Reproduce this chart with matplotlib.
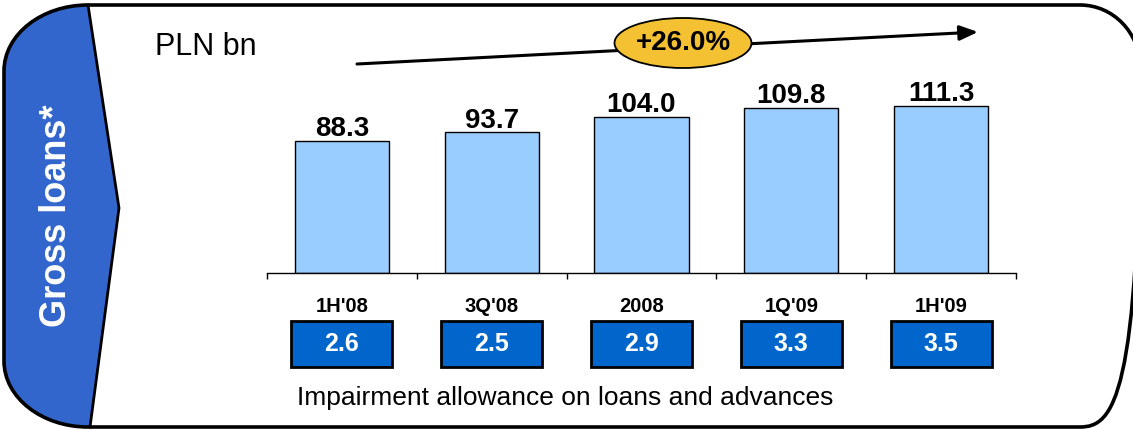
import matplotlib.pyplot as plt
import matplotlib.transforms as mtransforms
from matplotlib.patches import PathPatch, Ellipse, Rectangle
from matplotlib.path import Path
import numpy as np

plt.rcParams['font.family'] = ['Liberation Sans', 'DejaVu Sans']

periods = ["1H'08", "3Q'08", "2008", "1Q'09", "1H'09"]
gross_loans = [88.3, 93.7, 104.0, 109.8, 111.3]
impairment = [2.6, 2.5, 2.9, 3.3, 3.5]

growth = (gross_loans[-1] / gross_loans[0] - 1) * 100

fig = plt.figure(figsize=(11.33, 4.3), dpi=100)

# background layer in pixel units (y pointing down)
bg = fig.add_axes([0, 0, 1, 1])
bg.set_xlim(0, 1133)
bg.set_ylim(430, 0)
bg.axis('off')

K = 0.5523


def rounded_frame(left, top, right, bottom, rxl, ryl, rxr, ryr):
    verts = [
        (left + rxl, top),
        (right - rxr, top),
        (right - rxr + K * rxr, top), (right, top + ryr - K * ryr), (right, top + ryr),
        (right, bottom - ryr),
        (right, bottom - ryr + K * ryr), (right - rxr + K * rxr, bottom), (right - rxr, bottom),
        (left + rxl, bottom),
        (left + rxl - K * rxl, bottom), (left, bottom - ryl + K * ryl), (left, bottom - ryl),
        (left, top + ryl),
        (left, top + ryl - K * ryl), (left + rxl - K * rxl, top), (left + rxl, top),
        (left + rxl, top),
    ]
    codes = [Path.MOVETO, Path.LINETO,
             Path.CURVE4, Path.CURVE4, Path.CURVE4,
             Path.LINETO,
             Path.CURVE4, Path.CURVE4, Path.CURVE4,
             Path.LINETO,
             Path.CURVE4, Path.CURVE4, Path.CURVE4,
             Path.LINETO,
             Path.CURVE4, Path.CURVE4, Path.CURVE4,
             Path.CLOSEPOLY]
    return Path(verts, codes)


# blue side tab with chevron edge
L, T, B, rx, ry = 4, 5, 427, 84, 66
tab_verts = [
    (88, T), (119, 208), (90, B), (L + rx, B),
    (L + rx - K * rx, B), (L, B - ry + K * ry), (L, B - ry),
    (L, T + ry),
    (L, T + ry - K * ry), (L + rx - K * rx, T), (L + rx, T),
    (88, T),
]
tab_codes = [Path.MOVETO, Path.LINETO, Path.LINETO, Path.LINETO,
             Path.CURVE4, Path.CURVE4, Path.CURVE4,
             Path.LINETO,
             Path.CURVE4, Path.CURVE4, Path.CURVE4,
             Path.CLOSEPOLY]
bg.add_patch(PathPatch(Path(tab_verts, tab_codes), facecolor='#3366cc', edgecolor='none'))
bg.plot([88, 119, 90], [T, 208, B], color='black', lw=2, solid_joinstyle='miter')
bg.text(57, 216, 'Gross loans*', rotation=90, color='white', fontsize=26,
        fontweight='bold', ha='center', va='center')

# outer frame
bg.add_patch(PathPatch(rounded_frame(L, T, 1140, B, rx, ry, 60, 62),
                       facecolor='none', edgecolor='black', lw=2.6))

bg.text(155, 47, 'PLN bn', fontsize=22, ha='left', va='center')
bg.text(565, 398, 'Impairment allowance on loans and advances', fontsize=19,
        ha='center', va='center')

# growth arrow
bg.annotate('', xy=(978, 32), xytext=(357, 64),
            arrowprops=dict(arrowstyle='-|>,head_length=1.1,head_width=0.45',
                            lw=2.2, color='black', shrinkA=0, shrinkB=0))
bg.add_patch(Ellipse((683, 43), 137, 50, facecolor='#f4c132', edgecolor='black',
                     lw=1.3, zorder=3))
bg.text(683, 43, f'+{growth:.1f}%', fontsize=20, fontweight='bold',
        ha='center', va='center', zorder=4)

# bar chart
ax = fig.add_axes([267 / 1133, (430 - 273) / 430, 749 / 1133, 180 / 430])
ax.patch.set_visible(False)
x = np.arange(len(periods))
bars = ax.bar(x, gross_loans, width=0.63, color='#99ccff', edgecolor='black', lw=1)
ax.set_xlim(-0.5, len(periods) - 0.5)
ax.set_ylim(0, 120)
for s in ['top', 'left', 'right']:
    ax.spines[s].set_visible(False)
ax.spines['bottom'].set_linewidth(1)
ax.set_yticks([])
ax.set_xticks(np.arange(-0.5, len(periods), 1))
ax.set_xticklabels([])
ax.tick_params(axis='x', direction='out', length=4, width=1)

for xi, v in zip(x, gross_loans):
    ax.annotate(f'{v:.1f}', (xi, v), xytext=(0, 3.5), textcoords='offset points',
                ha='center', va='baseline', fontsize=20, fontweight='bold')

# period labels and impairment boxes below the axis
trans = mtransforms.blended_transform_factory(ax.transData, bg.transData)
box_w = 0.675
for xi, p, imp in zip(x, periods, impairment):
    ax.text(xi, 306, p, transform=trans, ha='center', va='center',
            fontsize=14.5, fontweight='bold', clip_on=False)
    ax.add_patch(Rectangle((xi - box_w / 2, 321), box_w, 46, transform=trans,
                           facecolor='#0066cc', edgecolor='black', lw=2, clip_on=False))
    ax.text(xi, 344, f'{imp:.1f}', transform=trans, ha='center', va='center',
            fontsize=18, fontweight='bold', color='white', clip_on=False)

fig.savefig('out.png', dpi=100)
